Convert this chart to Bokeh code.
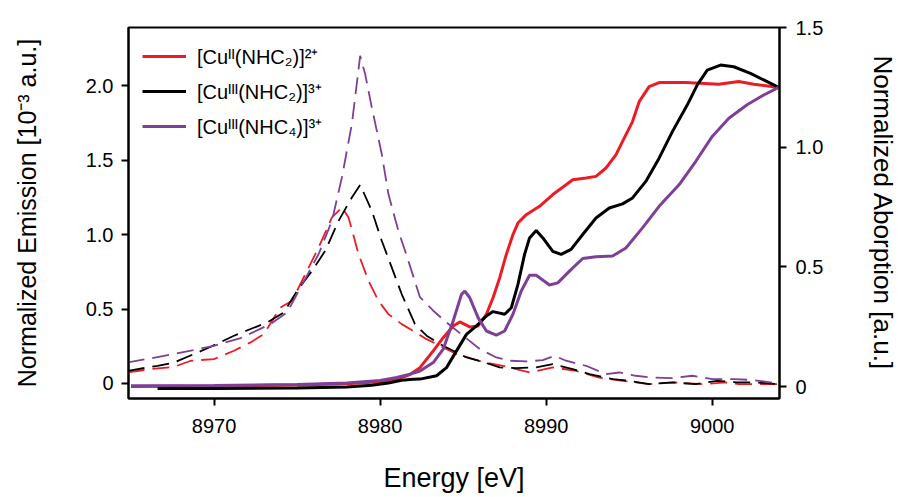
from bokeh.plotting import figure
from bokeh.models import Range1d, LinearAxis, FixedTicker, Legend, LegendItem, Title
from bokeh.embed import file_html
from bokeh.resources import INLINE

# ---------------- data ----------------
# emission (dashed, left axis, 10^-3 a.u.)
em_red_x = [8964.8, 8966.2, 8967.6, 8968.6, 8970.0, 8971.2, 8972.2, 8973.0, 8974.0, 8974.7,
            8975.5, 8976.3, 8977.1, 8977.7, 8978.1, 8978.7, 8979.3, 8979.9, 8980.5, 8981.3,
            8981.9, 8982.8, 8984.6, 8986.3, 8987.4, 8989.0, 8990.4, 8991.8, 8993.2, 8994.6,
            8996.2, 8997.8, 8999.4, 9000.8, 9001.6, 9004.0]
em_red_y = [0.074, 0.097, 0.112, 0.153, 0.164, 0.220, 0.276, 0.332, 0.511, 0.556,
            0.735, 0.914, 1.116, 1.183, 1.116, 0.870, 0.690, 0.556, 0.466, 0.399,
            0.359, 0.298, 0.198, 0.141, 0.119, 0.074, 0.108, 0.085, 0.040, 0.018,
            -0.004, 0.007, -0.004, 0.007, -0.004, -0.004]

em_black_x = [8964.8, 8966.6, 8967.6, 8969.0, 8969.8, 8971.2, 8972.2, 8973.2, 8974.2, 8975.0,
              8975.9, 8976.7, 8977.5, 8978.3, 8978.8, 8979.5, 8980.1, 8980.7, 8981.3, 8982.1,
              8982.8, 8983.6, 8984.4, 8985.2, 8986.1, 8987.2, 8988.2, 8989.4, 8990.4, 8991.6,
              8992.6, 8994.0, 8995.0, 8996.2, 8997.6, 8999.0, 9000.3, 9001.5, 9002.7, 9004.0]
em_black_y = [0.085, 0.119, 0.141, 0.208, 0.247, 0.321, 0.366, 0.410, 0.477, 0.623,
              0.757, 0.892, 1.093, 1.250, 1.335, 1.161, 0.959, 0.780, 0.601, 0.399,
              0.321, 0.265, 0.220, 0.175, 0.148, 0.108, 0.103, 0.108, 0.130, 0.097,
              0.063, 0.030, 0.018, -0.004, 0.007, -0.004, 0.018, 0.007, 0.007, -0.004]

em_purple_x = [8964.8, 8967.6, 8970.0, 8971.6, 8973.4, 8974.4, 8975.0, 8976.3, 8977.1, 8977.7,
               8978.3, 8978.8, 8979.1, 8979.5, 8980.1, 8980.5, 8981.1, 8981.7, 8982.4, 8983.2,
               8984.0, 8985.0, 8986.0, 8987.0, 8987.8, 8988.8, 8989.8, 8990.5, 8991.2, 8992.4,
               8993.6, 8994.4, 8995.4, 8996.4, 8997.6, 8998.8, 9000.0, 9001.3, 9002.5, 9004.0]
em_purple_y = [0.141, 0.198, 0.253, 0.305, 0.399, 0.477, 0.601, 0.870, 1.093, 1.384,
               1.743, 2.202, 2.079, 1.855, 1.542, 1.273, 1.026, 0.825, 0.580, 0.489,
               0.410, 0.321, 0.231, 0.175, 0.153, 0.148, 0.157, 0.186, 0.153, 0.119,
               0.063, 0.074, 0.052, 0.040, 0.036, 0.052, 0.030, 0.030, 0.023, 0.000]

# absorption (solid, right axis, a.u.)
ab_red_x = [8965.0, 8970.0, 8975.0, 8978.0, 8980.0, 8981.0, 8981.8, 8982.4, 8983.2, 8983.8,
            8984.4, 8984.8, 8985.4, 8985.9, 8986.4, 8986.8, 8987.2, 8987.6, 8988.0, 8988.3,
            8988.8, 8989.6, 8990.4, 8991.2, 8991.6, 8992.4, 8993.0, 8993.6, 8994.2, 8994.6,
            8995.2, 8995.6, 8996.2, 8996.8, 8998.4, 9000.4, 9001.6, 9002.5, 9004.0]
ab_red_y = [0.000, 0.002, 0.006, 0.012, 0.020, 0.030, 0.050, 0.079, 0.149, 0.204,
            0.253, 0.270, 0.249, 0.253, 0.302, 0.371, 0.454, 0.552, 0.635, 0.683,
            0.718, 0.753, 0.802, 0.843, 0.864, 0.871, 0.878, 0.913, 0.968, 1.024,
            1.107, 1.190, 1.253, 1.270, 1.270, 1.263, 1.274, 1.263, 1.249]

ab_black_x = [8966.6, 8970.0, 8975.0, 8978.0, 8979.5, 8980.5, 8981.3, 8982.0, 8982.4, 8983.4,
              8984.0, 8984.6, 8985.2, 8985.8, 8986.4, 8986.8, 8987.5, 8987.9, 8988.3, 8988.7,
              8989.0, 8989.4, 8989.8, 8990.4, 8990.9, 8991.5, 8992.2, 8993.0, 8993.8, 8994.6,
              8995.2, 8996.0, 8996.8, 8997.6, 8998.5, 8999.1, 8999.7, 9000.5, 9001.3, 9002.3,
              9003.1, 9004.0]
ab_black_y = [-0.008, -0.008, -0.006, -0.002, 0.005, 0.015, 0.026, 0.030, 0.031, 0.045,
              0.079, 0.149, 0.218, 0.253, 0.295, 0.313, 0.302, 0.329, 0.427, 0.552,
              0.621, 0.652, 0.621, 0.565, 0.552, 0.573, 0.635, 0.704, 0.746, 0.763,
              0.788, 0.857, 0.954, 1.065, 1.177, 1.260, 1.322, 1.343, 1.336, 1.308,
              1.281, 1.250]

ab_purple_x = [8965.0, 8970.0, 8975.0, 8978.0, 8980.0, 8981.0, 8981.8, 8982.4, 8983.2, 8983.8,
               8984.4, 8984.9, 8985.1, 8985.4, 8985.9, 8986.4, 8987.0, 8987.5, 8988.0, 8988.5,
               8989.0, 8989.4, 8990.2, 8990.7, 8991.4, 8992.2, 8993.0, 8994.0, 8994.8, 8995.8,
               8996.8, 8998.0, 8999.0, 9000.0, 9001.0, 9002.1, 9003.1, 9004.0]
ab_purple_y = [0.003, 0.004, 0.008, 0.015, 0.025, 0.038, 0.052, 0.065, 0.100, 0.156,
               0.274, 0.385, 0.399, 0.371, 0.288, 0.232, 0.215, 0.232, 0.302, 0.399,
               0.465, 0.465, 0.424, 0.433, 0.482, 0.535, 0.542, 0.545, 0.579, 0.663,
               0.753, 0.843, 0.940, 1.045, 1.121, 1.177, 1.218, 1.250]

labels = ["[Cuᴵᴵ(NHC₂)]²⁺", "[Cuᴵᴵᴵ(NHC₂)]³⁺", "[Cuᴵᴵᴵ(NHC₄)]³⁺"]
x_ticks = [8970, 8980, 8990, 9000]
left_ticks = [0, 0.5, 1.0, 1.5, 2.0]
right_ticks = [0, 0.5, 1.0, 1.5]
x_title = "Energy [eV]"

RED = "#ec1c24"
BLACK = "#000000"
PURPLE = "#7e3f98"
FONT = "Liberation Sans"

p = figure(width=901, height=497, output_backend="svg", toolbar_location=None,
           x_range=Range1d(8964.85, 9004.05), y_range=Range1d(-0.1008, 2.392),
           min_border_left=128, min_border_right=122, min_border_top=27, min_border_bottom=99)
p.extra_y_ranges = {"abs": Range1d(-0.05, 1.5)}
p.grid.visible = False
p.outline_line_color = "black"
p.outline_line_width = 2
p.background_fill_color = "white"
p.border_fill_color = "white"

# dashed emission
for xs, ys, c in [(em_red_x, em_red_y, RED), (em_black_x, em_black_y, BLACK), (em_purple_x, em_purple_y, PURPLE)]:
    p.line(xs, ys, color=c, line_width=1.8, line_dash="17 8")

# solid absorption
r_red = p.line(ab_red_x, ab_red_y, color=RED, line_width=3, y_range_name="abs")
r_black = p.line(ab_black_x, ab_black_y, color=BLACK, line_width=3, y_range_name="abs")
r_purple = p.line(ab_purple_x, ab_purple_y, color=PURPLE, line_width=3, y_range_name="abs")

right = LinearAxis(y_range_name="abs")
p.add_layout(right, "right")


def style(ax, ticks, overrides, label, size, standoff, lab_standoff):
    ax.ticker = FixedTicker(ticks=ticks)
    ax.major_label_overrides = overrides
    ax.axis_label = label
    ax.axis_label_text_font = FONT
    ax.axis_label_text_font_size = size
    ax.axis_label_text_font_style = "normal"
    ax.axis_label_text_color = "black"
    ax.axis_label_standoff = lab_standoff
    ax.major_label_text_font = FONT
    ax.major_label_text_font_size = "20px"
    ax.major_label_text_color = "black"
    ax.major_label_standoff = standoff
    ax.axis_line_width = 2
    ax.axis_line_color = "black"
    ax.major_tick_line_width = 2
    ax.major_tick_line_color = "black"
    ax.major_tick_out = 7
    ax.major_tick_in = 0
    ax.minor_tick_line_color = None


style(p.xaxis[0], x_ticks, {t: str(t) for t in x_ticks}, None, "27px", 13, 0)
style(p.yaxis[0], left_ticks, {0: "0", 0.5: "0.5", 1.0: "1.0", 1.5: "1.5", 2.0: "2.0"},
      "Normalized Emission [10⁻³ a.u.]", "25px", 8, 42)
style(right, right_ticks, {0: "0", 0.5: "0.5", 1.0: "1.0", 1.5: "1.5"},
      "Normalized Aborption [a.u.]", "26px", 9, 42)

# spacer panel, then the x-axis title below the axis
p.add_layout(Title(text=" ", text_font=FONT, text_font_size="16.5px", standoff=0), "below")
p.add_layout(Title(text=x_title, text_font=FONT, text_font_size="27px", text_font_style="normal",
                   text_color="black", align="center", offset=9), "below")

legend = Legend(items=[LegendItem(label=labels[0], renderers=[r_red]),
                       LegendItem(label=labels[1], renderers=[r_black]),
                       LegendItem(label=labels[2], renderers=[r_purple])],
                location=(14, 257))
legend.border_line_alpha = 0
legend.background_fill_alpha = 0
legend.label_text_font = FONT
legend.label_text_font_size = "20px"
legend.label_text_color = "black"
legend.glyph_width = 44
legend.glyph_height = 30
legend.label_height = 30
legend.spacing = 5
legend.padding = 0
legend.margin = 0
legend.label_standoff = 11
p.add_layout(legend)

open("out.html", "w").write(file_html(p, INLINE))
